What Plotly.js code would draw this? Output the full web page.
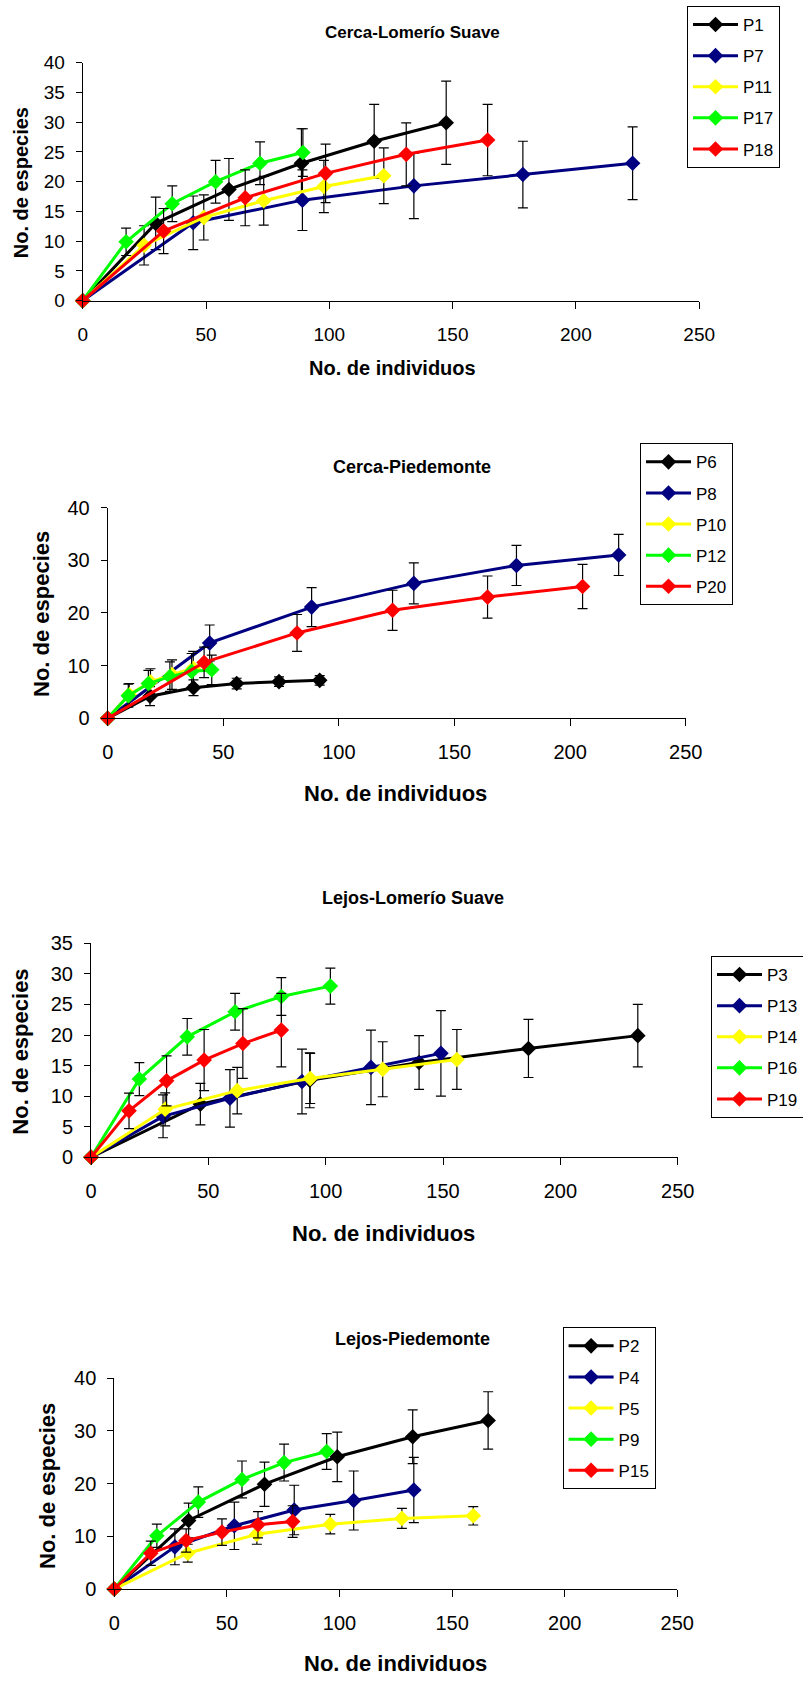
<!DOCTYPE html>
<html>
<head>
<meta charset="utf-8">
<script src="https://cdn.plot.ly/plotly-3.0.1.min.js"></script>
<style>html,body{margin:0;padding:0;background:#fff;}#chart{width:803px;height:1686px;}</style>
</head>
<body>
<div id="chart"></div>
<script>
// ---------- Data ----------
// Panel 1: Cerca-Lomerío Suave
const P1_x  = [0, 29.6, 59.3, 88.7, 118.2, 147.4];
const P1_y  = [0, 13.0, 18.7, 23.1, 26.8, 29.9];
const P1_e  = [0, 4.4, 5.2, 5.8, 6.2, 7.0];
const P7_x  = [0, 44.8, 89.1, 134.3, 178.5, 223.0];
const P7_y  = [0, 13.1, 16.9, 19.3, 21.2, 23.1];
const P7_e  = [0, 4.5, 5.1, 5.5, 5.6, 6.1];
const P11_x = [0, 24.9, 49.1, 73.4, 97.8, 122.1];
const P11_y = [0, 9.3, 14.0, 16.8, 19.2, 21.0];
const P11_e = [0, 3.3, 3.8, 4.1, 4.4, 4.7];
const P17_x = [0, 17.6, 36.3, 53.9, 71.9, 89.3];
const P17_y = [0, 9.9, 16.3, 20.0, 23.1, 24.9];
const P17_e = [0, 2.3, 3.0, 3.6, 3.6, 4.0];
const P18_x = [0, 32.8, 65.9, 98.5, 131.2, 164.2];
const P18_y = [0, 11.7, 17.3, 21.4, 24.6, 27.0];
const P18_e = [0, 3.8, 4.7, 4.9, 5.3, 6.0];

// Panel 2: Cerca-Piedemonte
const P6_x  = [0, 18.3, 37.1, 55.8, 74.1, 91.7];
const P6_y  = [0, 4.2, 5.8, 6.6, 6.95, 7.2];
const P6_e  = [0, 1.8, 1.5, 1.0, 0.9, 0.9];
const P8_x  = [0, 44.1, 88.2, 132.4, 176.8, 221.0];
const P8_y  = [0, 14.3, 21.1, 25.6, 29.0, 31.0];
const P8_e  = [0, 3.4, 3.7, 3.9, 3.8, 3.9];
const P10_x = [0, 9.3, 18.5, 27.8, 37.0];
const P10_y = [0, 4.5, 6.9, 8.3, 9.5];
const P10_e = [0, 2.1, 2.5, 2.8, 3.2];
const P12_x = [0, 8.9, 17.6, 26.9, 36.3, 45.0];
const P12_y = [0, 4.3, 6.6, 7.9, 8.9, 9.2];
const P12_e = [0, 2.2, 2.5, 2.8, 3.4, 2.8];
const P20_x = [0, 41.7, 81.9, 123.2, 164.3, 205.4];
const P20_y = [0, 10.6, 16.2, 20.5, 23.0, 25.0];
const P20_e = [0, 2.9, 3.5, 3.8, 4.0, 4.2];

// Panel 3: Lejos-Lomerío Suave
const P3_x  = [0, 46.6, 93.2, 139.8, 186.4, 233.0];
const P3_y  = [0, 8.7, 12.6, 15.5, 17.8, 19.9];
const P3_e  = [0, 3.4, 4.5, 4.4, 4.75, 5.1];
const P13_x = [0, 30.7, 59.2, 89.9, 119.3, 149.1];
const P13_y = [0, 6.7, 9.65, 12.4, 14.7, 17.0];
const P13_e = [0, 3.5, 4.7, 5.3, 6.1, 7.0];
const P14_x = [0, 31.6, 62.3, 93.4, 124.3, 155.9];
const P14_y = [0, 7.85, 10.9, 12.9, 14.4, 16.0];
const P14_e = [0, 2.7, 3.8, 4.1, 4.5, 4.9];
const P16_x = [0, 20.6, 41.0, 61.4, 81.1, 102.0];
const P16_y = [0, 12.8, 19.7, 23.8, 26.3, 28.0];
const P16_e = [0, 2.7, 3.0, 3.0, 3.1, 2.95];
const P19_x = [0, 16.2, 32.2, 48.2, 64.7, 81.1];
const P19_y = [0, 7.6, 12.5, 15.9, 18.6, 20.8];
const P19_e = [0, 2.9, 4.1, 5.0, 5.7, 6.0];

// Panel 4: Lejos-Piedemonte
const P2_x  = [0, 33.0, 66.7, 99.0, 132.5, 166.0];
const P2_y  = [0, 13.0, 19.9, 25.1, 28.9, 32.0];
const P2_e  = [0, 3.3, 4.2, 4.7, 5.1, 5.45];
const P4_x  = [0, 26.9, 53.3, 79.9, 106.3, 133.0];
const P4_y  = [0, 8.0, 12.0, 15.0, 16.8, 18.8];
const P4_e  = [0, 3.4, 4.5, 4.7, 5.6, 6.2];
const P5_x  = [0, 32.6, 63.3, 95.9, 127.7, 159.4];
const P5_y  = [0, 6.8, 10.4, 12.3, 13.4, 13.9];
const P5_e  = [0, 1.7, 1.9, 1.85, 1.9, 1.75];
const P9_x  = [0, 18.9, 37.3, 56.7, 75.4, 94.3];
const P9_y  = [0, 10.1, 16.5, 20.8, 24.0, 26.1];
const P9_e  = [0, 2.2, 2.9, 3.5, 3.5, 3.4];
const P15_x = [0, 16.2, 31.9, 47.8, 63.8, 79.2];
const P15_y = [0, 6.8, 9.2, 10.8, 12.2, 12.8];
const P15_e = [0, 2.3, 2.2, 2.5, 2.5, 3.0];

const panelTitles = ["Cerca-Lomerío Suave", "Cerca-Piedemonte", "Lejos-Lomerío Suave", "Lejos-Piedemonte"];
const xTitle = "No. de individuos";
const yTitle = "No. de especies";

// ---------- Styling / layout ----------
const W = 803, H = 1686;
const FONT = "Liberation Sans, Arial, sans-serif";
const COLORS = {black: "#000000", blue: "#000080", yellow: "#FFFF00", green: "#00FF00", red: "#FF0000"};

const panels = [
  {series: [["P1",P1_x,P1_y,P1_e,"black"],["P7",P7_x,P7_y,P7_e,"blue"],["P11",P11_x,P11_y,P11_e,"yellow"],["P17",P17_x,P17_y,P17_e,"green"],["P18",P18_x,P18_y,P18_e,"red"]],
   px:[82.7,699.2], py:[62.7,300.7], ymax:40, dy:5,
   title:[412,32,17], xt:[392,367.5,20], yt:[20.5,182.7,20], leg:[687,6], tickFont:19},
  {series: [["P6",P6_x,P6_y,P6_e,"black"],["P8",P8_x,P8_y,P8_e,"blue"],["P10",P10_x,P10_y,P10_e,"yellow"],["P12",P12_x,P12_y,P12_e,"green"],["P20",P20_x,P20_y,P20_e,"red"]],
   px:[107.7,685.7], py:[507.5,718.3], ymax:40, dy:10,
   title:[412,467.3,18], xt:[395,793.3,22], yt:[41,614,22], leg:[640,443.3], tickFont:20},
  {series: [["P3",P3_x,P3_y,P3_e,"black"],["P13",P13_x,P13_y,P13_e,"blue"],["P14",P14_x,P14_y,P14_e,"yellow"],["P16",P16_x,P16_y,P16_e,"green"],["P19",P19_x,P19_y,P19_e,"red"]],
   px:[91,677.7], py:[943.3,1157.3], ymax:35, dy:5,
   title:[413,898.3,18], xt:[383,1233.3,22], yt:[21,1051.7,22], leg:[711,956], tickFont:20},
  {series: [["P2",P2_x,P2_y,P2_e,"black"],["P4",P4_x,P4_y,P4_e,"blue"],["P5",P5_x,P5_y,P5_e,"yellow"],["P9",P9_x,P9_y,P9_e,"green"],["P15",P15_x,P15_y,P15_e,"red"]],
   px:[114.3,677.3], py:[1378.3,1589], ymax:40, dy:10,
   title:[413,1338.8,18], xt:[395,1663.3,22], yt:[47,1486,22], leg:[562.6,1327.3], tickFont:20}
];

const traces = [];
const layout = {
  width: W, height: H,
  margin: {l:0, r:0, t:0, b:0, autoexpand:false},
  paper_bgcolor: "#fff", plot_bgcolor: "#fff",
  font: {family: FONT, color: "#000"},
  annotations: []
};

panels.forEach((p, i) => {
  const n = i + 1;
  const xa = n === 1 ? "x" : "x" + n, ya = n === 1 ? "y" : "y" + n;
  const xk = n === 1 ? "xaxis" : "xaxis" + n, yk = n === 1 ? "yaxis" : "yaxis" + n;
  const lk = n === 1 ? "legend" : "legend" + n;
  p.series.forEach(([name, xs, ys, es, c], j) => {
    traces.push({
      type: "scatter", mode: "lines+markers", name: name,
      x: xs, y: ys, xaxis: xa, yaxis: ya, legend: lk,
      legendgroup: "g" + n + "_" + j,
      cliponaxis: false,
      line: {color: COLORS[c], width: 3},
      marker: {symbol: "diamond", size: 12, color: COLORS[c]},
      error_y: {type: "data", array: es, visible: true, color: "#000", thickness: 1.2, width: 5},
      hoverinfo: "x+y+name"
    });
  });
  layout[xk] = {
    domain: [p.px[0]/W, p.px[1]/W], anchor: ya, range: [0, 250], dtick: 50, tick0: 0,
    showgrid: false, zeroline: false, showline: true, linecolor: "#000", linewidth: 1,
    ticks: "outside", ticklen: 7, tickcolor: "#000", tickwidth: 1,
    tickfont: {family: FONT, size: p.tickFont, color: "#000"}, ticklabelstandoff: 9
  };
  layout[yk] = {
    domain: [1 - p.py[1]/H, 1 - p.py[0]/H], anchor: xa, range: [0, p.ymax], dtick: p.dy, tick0: 0,
    showgrid: false, zeroline: false, showline: true, linecolor: "#000", linewidth: 1,
    ticks: "outside", ticklen: 6, tickcolor: "#000", tickwidth: 1,
    tickfont: {family: FONT, size: p.tickFont, color: "#000"}, ticklabelstandoff: 7
  };
  layout[lk] = {
    x: p.leg[0]/W, y: 1 - p.leg[1]/H, xanchor: "left", yanchor: "top",
    xref: "paper", yref: "paper",
    bgcolor: "#fff", bordercolor: "#000", borderwidth: 1,
    font: {family: FONT, size: 17, color: "#000"},
    tracegroupgap: 6, itemwidth: 45
  };
  layout.annotations.push(
    {text: panelTitles[i], xref: "paper", yref: "paper", x: p.title[0]/W, y: 1 - p.title[1]/H,
     xanchor: "center", yanchor: "middle", showarrow: false,
     font: {family: FONT, size: p.title[2], weight: "bold", color: "#000"}},
    {text: xTitle, xref: "paper", yref: "paper", x: p.xt[0]/W, y: 1 - p.xt[1]/H,
     xanchor: "center", yanchor: "middle", showarrow: false,
     font: {family: FONT, size: p.xt[2], weight: "bold", color: "#000"}},
    {text: yTitle, xref: "paper", yref: "paper", x: p.yt[0]/W, y: 1 - p.yt[1]/H,
     xanchor: "center", yanchor: "middle", showarrow: false, textangle: -90,
     font: {family: FONT, size: p.yt[2], weight: "bold", color: "#000"}}
  );
});

Plotly.newPlot("chart", traces, layout, {displayModeBar: false, staticPlot: true});
</script>
</body>
</html>
